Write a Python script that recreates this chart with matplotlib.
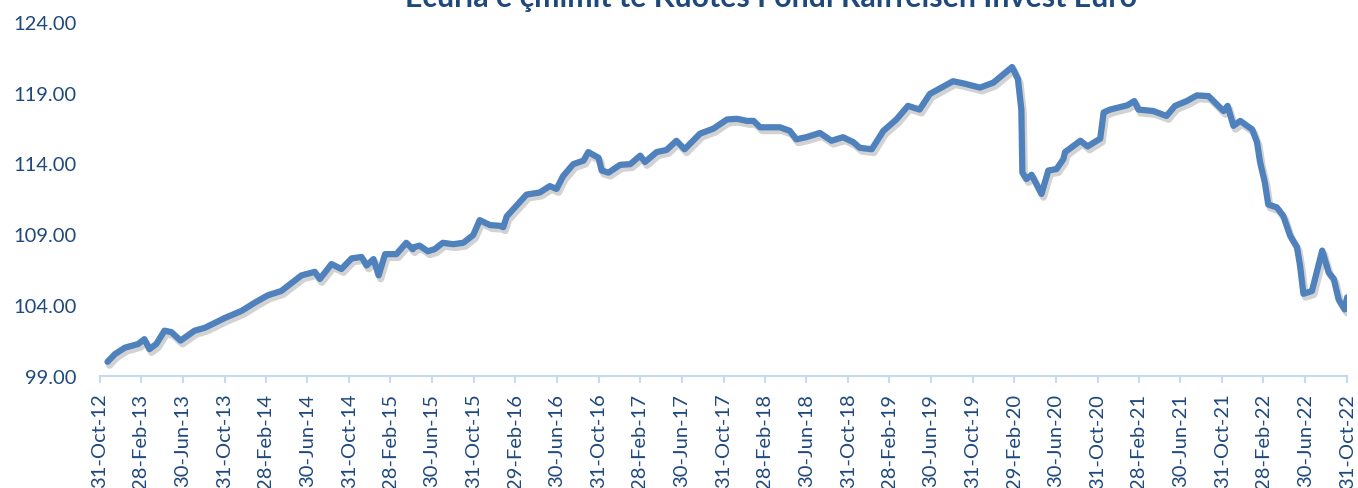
import pandas as pd
import matplotlib
matplotlib.use('Agg')
import matplotlib.pyplot as plt
import matplotlib.dates as mdates
import matplotlib.patheffects as pe

# valori i kuotes (lexuar nga grafiku)
dates = [
    '2012-11-22', '2012-12-14', '2013-01-12', '2013-02-20', '2013-03-10', '2013-03-25',
    '2013-04-14', '2013-05-08', '2013-05-28', '2013-06-24', '2013-08-04', '2013-09-03',
    '2013-11-01', '2013-12-20', '2014-01-29', '2014-03-07', '2014-04-15', '2014-06-13',
    '2014-07-22', '2014-08-06', '2014-09-09', '2014-10-08', '2014-11-07', '2014-12-06',
    '2014-12-21', '2015-01-10', '2015-01-25', '2015-02-13', '2015-03-18', '2015-04-16',
    '2015-05-05', '2015-05-10', '2015-05-25', '2015-06-18', '2015-07-08', '2015-08-01',
    '2015-08-31', '2015-09-30', '2015-10-29', '2015-11-17', '2015-12-17', '2016-01-15',
    '2016-01-25', '2016-02-04', '2016-03-03', '2016-04-02', '2016-05-11', '2016-06-09',
    '2016-06-29', '2016-07-18', '2016-08-17', '2016-09-16', '2016-09-30', '2016-10-30',
    '2016-11-08', '2016-11-28', '2017-01-01', '2017-01-31', '2017-03-01', '2017-03-15',
    '2017-04-18', '2017-05-17', '2017-06-15', '2017-07-09', '2017-08-23', '2017-10-01',
    '2017-11-10', '2017-12-09', '2018-01-08', '2018-01-27', '2018-02-15', '2018-03-15',
    '2018-04-14', '2018-05-13', '2018-06-01', '2018-06-30', '2018-08-09', '2018-09-12',
    '2018-10-16', '2018-11-15', '2018-12-04', '2019-01-08', '2019-02-11', '2019-03-21',
    '2019-04-24', '2019-05-28', '2019-06-27', '2019-09-03', '2019-10-03', '2019-11-21',
    '2019-12-30', '2020-02-23', '2020-03-11', '2020-03-21', '2020-03-24', '2020-04-05',
    '2020-04-20', '2020-05-19', '2020-06-08', '2020-07-02', '2020-07-22', '2020-07-27',
    '2020-09-10', '2020-10-01', '2020-11-07', '2020-11-17', '2020-12-06', '2021-01-25',
    '2021-02-15', '2021-02-27', '2021-04-11', '2021-05-20', '2021-06-14', '2021-07-18',
    '2021-08-17', '2021-09-20', '2021-10-19', '2021-11-03', '2021-11-15', '2021-12-02',
    '2021-12-22', '2022-01-26', '2022-02-09', '2022-02-18', '2022-03-04', '2022-03-14',
    '2022-04-08', '2022-04-27', '2022-05-17', '2022-06-06', '2022-06-15', '2022-06-25',
    '2022-07-20', '2022-08-19', '2022-09-07', '2022-09-22', '2022-10-06', '2022-10-24',
    '2022-10-31',
]
prices = [
    100.00, 100.55, 101.00, 101.26, 101.60, 100.90,
    101.26, 102.20, 102.10, 101.50, 102.20, 102.40,
    103.10, 103.60, 104.20, 104.70, 105.00, 106.10,
    106.35, 105.85, 106.90, 106.55, 107.30, 107.40,
    106.80, 107.25, 106.10, 107.60, 107.60, 108.40,
    107.95, 108.10, 108.20, 107.80, 107.95, 108.40,
    108.30, 108.40, 108.95, 110.00, 109.65, 109.60,
    109.50, 110.26, 111.00, 111.80, 111.95, 112.40,
    112.20, 113.10, 113.95, 114.20, 114.80, 114.40,
    113.50, 113.35, 113.90, 113.95, 114.55, 114.10,
    114.80, 114.95, 115.60, 115.00, 116.10, 116.45,
    117.10, 117.15, 117.00, 117.00, 116.55, 116.55,
    116.55, 116.30, 115.70, 115.85, 116.15, 115.60,
    115.85, 115.50, 115.10, 115.00, 116.30, 117.10,
    118.06, 117.80, 118.90, 119.80, 119.65, 119.35,
    119.70, 120.80, 119.95, 117.80, 113.35, 112.90,
    113.20, 111.85, 113.50, 113.60, 114.30, 114.80,
    115.60, 115.20, 115.75, 117.60, 117.80, 118.10,
    118.40, 117.80, 117.70, 117.35, 118.06, 118.40,
    118.80, 118.75, 118.06, 117.70, 118.06, 116.65,
    117.00, 116.40, 115.50, 114.10, 112.65, 111.10,
    110.90, 110.30, 108.90, 108.10, 106.80, 104.80,
    105.00, 107.85, 106.30, 105.85, 104.40, 103.70,
    104.55,
]
y_ticks = [99, 104, 109, 114, 119, 124]
title = 'Ecuria e çmimit të Kuotës Fondi Raiffeisen Invest Euro'

text_color = '#1f497d'
line_color = '#4f81bd'
axis_color = '#c6d9f1'

plt.rcParams['font.family'] = ['Lato', 'DejaVu Sans']

def main():
    df = pd.DataFrame({'date': pd.to_datetime(dates), 'price': prices})

    fig = plt.figure(figsize=(13.58, 4.89), dpi=100)
    ax = fig.add_axes([0.0736, 0.229, 0.9184, 0.7246])

    ax.plot(df['date'], df['price'], color=line_color, linewidth=4.5,
            solid_capstyle='round', solid_joinstyle='round',
            path_effects=[pe.SimpleLineShadow(offset=(1.5, -2.5), shadow_color='#808080',
                                              alpha=0.35, linewidth=5),
                          pe.Normal()])

    start, end = pd.Timestamp('2012-10-31'), pd.Timestamp('2022-10-31')
    x_ticks = pd.date_range(start, end, freq=pd.offsets.MonthEnd(4))
    ax.set_xlim(start, end)
    ax.set_xticks(x_ticks)
    ax.xaxis.set_major_formatter(mdates.DateFormatter('%d-%b-%y'))
    ax.set_ylim(99, 124)
    ax.set_yticks(y_ticks)
    ax.set_yticklabels([f'{v:.2f}' for v in y_ticks])

    for s in ['top', 'right', 'left']:
        ax.spines[s].set_visible(False)
    ax.spines['bottom'].set_color(axis_color)
    ax.spines['bottom'].set_linewidth(1.5)

    ax.tick_params(axis='x', direction='out', length=5, width=1.5, color=axis_color,
                   labelcolor=text_color, labelsize=14.5, labelrotation=90, pad=7)
    ax.tick_params(axis='y', length=0, labelcolor=text_color, labelsize=14.5, pad=17)
    for lab in ax.get_xticklabels():
        lab.set_verticalalignment('top')

    # titulli del pjeserisht jashte figures, si ne origjinal
    fig.text(0.568, 0.986, title, ha='center', va='baseline', fontsize=21.8,
             fontweight='bold', color=text_color)

    fig.savefig('out.png', dpi=100)

if __name__ == "__main__":
    main()
